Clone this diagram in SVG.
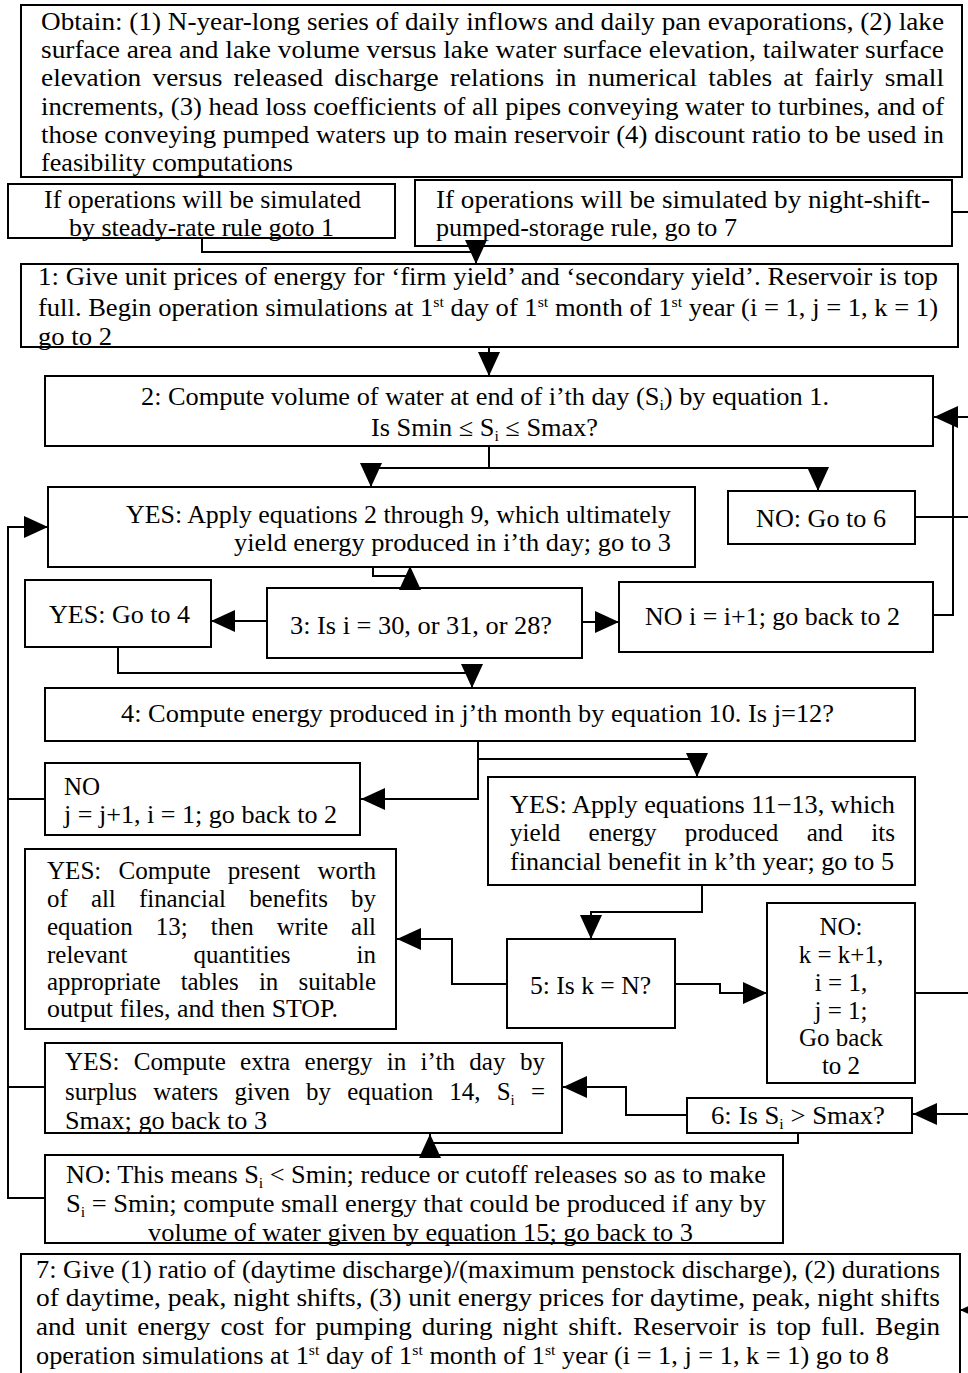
<svg xmlns="http://www.w3.org/2000/svg" width="968" height="1373" viewBox="0 0 968 1373">
<style>
.box{fill:#fff;stroke:#000;stroke-width:2}
.t{font-family:"Liberation Serif","Times New Roman",serif;font-size:25px;fill:#000}
.m{text-anchor:middle}
.sub{font-size:15px}
.c{fill:none;stroke:#000;stroke-width:2}
.a{marker-end:url(#ah)}
</style>
<defs>
<marker id="ah" viewBox="0 0 24 22" refX="24" refY="11" markerWidth="24" markerHeight="22" markerUnits="userSpaceOnUse" orient="auto">
<path d="M0,0 L24,11 L0,22 z" fill="#000"/>
</marker>
</defs>
<rect width="968" height="1373" fill="#fff"/>

<g id="n-obtain">
<rect class="box" x="21" y="5" width="941" height="172"/>
<text class="t" x="41" y="30" textLength="903" lengthAdjust="spacingAndGlyphs">Obtain: (1) N-year-long series of daily inflows and daily pan evaporations, (2) lake</text>
<text class="t" x="41" y="58" textLength="903" lengthAdjust="spacingAndGlyphs">surface area and lake volume versus lake water surface elevation, tailwater surface</text>
<text class="t" x="41" y="86" textLength="903" lengthAdjust="spacingAndGlyphs" style="word-spacing:4px">elevation versus released discharge relations in numerical tables at fairly small</text>
<text class="t" x="41" y="115" textLength="903" lengthAdjust="spacingAndGlyphs">increments, (3) head loss coefficients of all pipes conveying water to turbines, and of</text>
<text class="t" x="41" y="143" textLength="903" lengthAdjust="spacingAndGlyphs">those conveying pumped waters up to main reservoir (4) discount ratio to be used in</text>
<text class="t" x="41" y="171" textLength="252" lengthAdjust="spacingAndGlyphs">feasibility computations</text>
</g>

<g id="n-steady">
<rect class="box" x="8" y="184" width="387" height="54"/>
<text class="t" x="44" y="208" textLength="317" lengthAdjust="spacingAndGlyphs">If operations will be simulated</text>
<text class="t" x="69" y="236" textLength="265" lengthAdjust="spacingAndGlyphs">by steady-rate rule goto 1</text>
</g>

<g id="n-night">
<rect class="box" x="415" y="180" width="537" height="66"/>
<text class="t" x="436" y="208" textLength="494" lengthAdjust="spacingAndGlyphs">If operations will be simulated by night-shift-</text>
<text class="t" x="436" y="236" textLength="301" lengthAdjust="spacingAndGlyphs">pumped-storage rule, go to 7</text>
</g>

<g id="n1">
<rect class="box" x="21" y="264" width="937" height="83"/>
<text class="t" x="38" y="285" textLength="900" lengthAdjust="spacingAndGlyphs">1: Give unit prices of energy for ‘firm yield’ and ‘secondary yield’. Reservoir is top</text>
<text class="t" x="38" y="316" textLength="900" lengthAdjust="spacingAndGlyphs">full. Begin operation simulations at 1<tspan class="sub" dy="-9">st</tspan><tspan dy="9"> day of 1</tspan><tspan class="sub" dy="-9">st</tspan><tspan dy="9"> month of 1</tspan><tspan class="sub" dy="-9">st</tspan><tspan dy="9"> year (i = 1, j = 1, k = 1)</tspan></text>
<text class="t" x="38" y="345" textLength="74" lengthAdjust="spacingAndGlyphs">go to 2</text>
</g>

<g id="n2">
<rect class="box" x="45" y="376" width="888" height="70"/>
<text class="t" x="141" y="405" textLength="688" lengthAdjust="spacingAndGlyphs">2: Compute volume of water at end of i’th day (S<tspan class="sub" dy="5">i</tspan><tspan dy="-5">) by equation 1.</tspan></text>
<text class="t" x="371" y="436" textLength="227" lengthAdjust="spacingAndGlyphs">Is Smin ≤ S<tspan class="sub" dy="5">i</tspan><tspan dy="-5"> ≤ Smax?</tspan></text>
</g>

<g id="n-yes-apply">
<rect class="box" x="48" y="487" width="647" height="80"/>
<text class="t" x="126" y="523" textLength="545" lengthAdjust="spacingAndGlyphs">YES: Apply equations 2 through 9, which ultimately</text>
<text class="t" x="234" y="551" textLength="437" lengthAdjust="spacingAndGlyphs">yield energy produced in i’th day; go to 3</text>
</g>

<g id="n-no6">
<rect class="box" x="728" y="491" width="187" height="53"/>
<text class="t" x="756" y="527" textLength="130" lengthAdjust="spacingAndGlyphs">NO: Go to 6</text>
</g>

<g id="n-yes4">
<rect class="box" x="25" y="580" width="186" height="67"/>
<text class="t" x="49" y="623" textLength="141" lengthAdjust="spacingAndGlyphs">YES: Go to 4</text>
</g>

<g id="n3">
<rect class="box" x="267" y="588" width="315" height="70"/>
<text class="t" x="290" y="634" textLength="262" lengthAdjust="spacingAndGlyphs">3: Is i = 30, or 31, or 28?</text>
</g>

<g id="n-noi">
<rect class="box" x="619" y="582" width="314" height="70"/>
<text class="t" x="645" y="625" textLength="255" lengthAdjust="spacingAndGlyphs">NO i = i+1; go back to 2</text>
</g>

<g id="n4">
<rect class="box" x="45" y="688" width="870" height="53"/>
<text class="t" x="121" y="722" textLength="713" lengthAdjust="spacingAndGlyphs">4: Compute energy produced in j’th month by equation 10. Is j=12?</text>
</g>

<g id="n-noj">
<rect class="box" x="45" y="763" width="315" height="72"/>
<text class="t" x="64" y="795">NO</text>
<text class="t" x="64" y="823" textLength="273" lengthAdjust="spacingAndGlyphs">j = j+1, i = 1; go back to 2</text>
</g>

<g id="n-yes-year">
<rect class="box" x="488" y="777" width="427" height="108"/>
<text class="t" x="510" y="813" textLength="385" lengthAdjust="spacingAndGlyphs">YES: Apply equations 11−13, which</text>
<text class="t" x="510" y="841" textLength="385" lengthAdjust="spacingAndGlyphs" style="word-spacing:22px">yield energy produced and its</text>
<text class="t" x="510" y="870" textLength="384" lengthAdjust="spacingAndGlyphs">financial benefit in k’th year; go to 5</text>
</g>

<g id="n-stop">
<rect class="box" x="25" y="849" width="371" height="180"/>
<text class="t" x="47" y="879" textLength="329" lengthAdjust="spacingAndGlyphs" style="word-spacing:11px">YES: Compute present worth</text>
<text class="t" x="47" y="907" textLength="329" lengthAdjust="spacingAndGlyphs" style="word-spacing:17px">of all financial benefits by</text>
<text class="t" x="47" y="935" textLength="329" lengthAdjust="spacingAndGlyphs" style="word-spacing:17px">equation 13; then write all</text>
<text class="t" x="47" y="963" textLength="329" lengthAdjust="spacingAndGlyphs" style="word-spacing:60px">relevant quantities in</text>
<text class="t" x="47" y="990" textLength="329" lengthAdjust="spacingAndGlyphs" style="word-spacing:14px">appropriate tables in suitable</text>
<text class="t" x="47" y="1017" textLength="291" lengthAdjust="spacingAndGlyphs">output files, and then STOP.</text>
</g>

<g id="n5">
<rect class="box" x="507" y="939" width="168" height="89"/>
<text class="t" x="530" y="994" textLength="121" lengthAdjust="spacingAndGlyphs">5: Is k = N?</text>
</g>

<g id="n-nok">
<rect class="box" x="767" y="903" width="148" height="180"/>
<text class="t m" x="841" y="935">NO:</text>
<text class="t m" x="841" y="963">k = k+1,</text>
<text class="t m" x="841" y="991">i = 1,</text>
<text class="t m" x="841" y="1019">j = 1;</text>
<text class="t m" x="841" y="1046">Go back</text>
<text class="t m" x="841" y="1074">to 2</text>
</g>

<g id="n-yes-extra">
<rect class="box" x="45" y="1043" width="517" height="90"/>
<text class="t" x="65" y="1070" textLength="480" lengthAdjust="spacingAndGlyphs" style="word-spacing:8px">YES: Compute extra energy in i’th day by</text>
<text class="t" x="65" y="1100" textLength="480" lengthAdjust="spacingAndGlyphs" style="word-spacing:10px">surplus waters given by equation 14, S<tspan class="sub" dy="5">i</tspan><tspan dy="-5"> =</tspan></text>
<text class="t" x="65" y="1129" textLength="202" lengthAdjust="spacingAndGlyphs">Smax; go back to 3</text>
</g>

<g id="n6">
<rect class="box" x="687" y="1098" width="225" height="35"/>
<text class="t" x="711" y="1124" textLength="174" lengthAdjust="spacingAndGlyphs">6: Is S<tspan class="sub" dy="5">i</tspan><tspan dy="-5"> &gt; Smax?</tspan></text>
</g>

<g id="n-no-min">
<rect class="box" x="45" y="1155" width="738" height="88"/>
<text class="t" x="66" y="1183" textLength="700" lengthAdjust="spacingAndGlyphs">NO: This means S<tspan class="sub" dy="5">i</tspan><tspan dy="-5"> &lt; Smin; reduce or cutoff releases so as to make</tspan></text>
<text class="t" x="66" y="1212" textLength="700" lengthAdjust="spacingAndGlyphs">S<tspan class="sub" dy="5">i</tspan><tspan dy="-5"> = Smin; compute small energy that could be produced if any by</tspan></text>
<text class="t" x="148" y="1241" textLength="545" lengthAdjust="spacingAndGlyphs">volume of water given by equation 15; go back to 3</text>
</g>

<g id="n7">
<rect class="box" x="21" y="1254" width="939" height="130"/>
<text class="t" x="36" y="1278" textLength="904" lengthAdjust="spacingAndGlyphs">7: Give (1) ratio of (daytime discharge)/(maximum penstock discharge), (2) durations</text>
<text class="t" x="36" y="1306" textLength="904" lengthAdjust="spacingAndGlyphs">of daytime, peak, night shifts, (3) unit energy prices for daytime, peak, night shifts</text>
<text class="t" x="36" y="1335" textLength="904" lengthAdjust="spacingAndGlyphs" style="word-spacing:3px">and unit energy cost for pumping during night shift. Reservoir is top full. Begin</text>
<text class="t" x="36" y="1364" textLength="853" lengthAdjust="spacingAndGlyphs">operation simulations at 1<tspan class="sub" dy="-9">st</tspan><tspan dy="9"> day of 1</tspan><tspan class="sub" dy="-9">st</tspan><tspan dy="9"> month of 1</tspan><tspan class="sub" dy="-9">st</tspan><tspan dy="9"> year (i = 1, j = 1, k = 1) go to 8</tspan></text>
</g>

<g id="connectors">
<path class="c a" d="M202,238 V252 H476 V264"/>
<path class="c a" d="M489,347 V376"/>
<path class="c a" d="M489,446 V468 H371 V487"/>
<path class="c a" d="M489,468 H818 V491"/>
<path class="c a" d="M373,567 V576 H410 V566"/>
<path class="c a" d="M267,621 H211"/>
<path class="c a" d="M582,622 H619"/>
<path class="c a" d="M118,647 V673 H472 V688"/>
<path class="c" d="M933,615 H953 V417"/>
<path class="c a" d="M915,993 H972 V417 H934"/>
<path class="c a" d="M915,517 H972 V1114 H913"/>
<path class="c a" d="M952,212 H972 V1310 H960"/>
<path class="c a" d="M478,741 V799 H361"/>
<path class="c a" d="M478,759 H697 V777"/>
<path class="c a" d="M702,885 V912 H591 V939"/>
<path class="c a" d="M507,984 H452 V939 H397"/>
<path class="c a" d="M675,984 H720 V993 H767"/>
<path class="c a" d="M687,1115 H626 V1087 H563"/>
<path class="c a" d="M798,1133 V1143 H430 V1134"/>
<path class="c a" d="M45,799 H8 V527 H48"/>
<path class="c" d="M45,1087 H8"/>
<path class="c" d="M45,1198 H8 V799"/>
</g>
</svg>
